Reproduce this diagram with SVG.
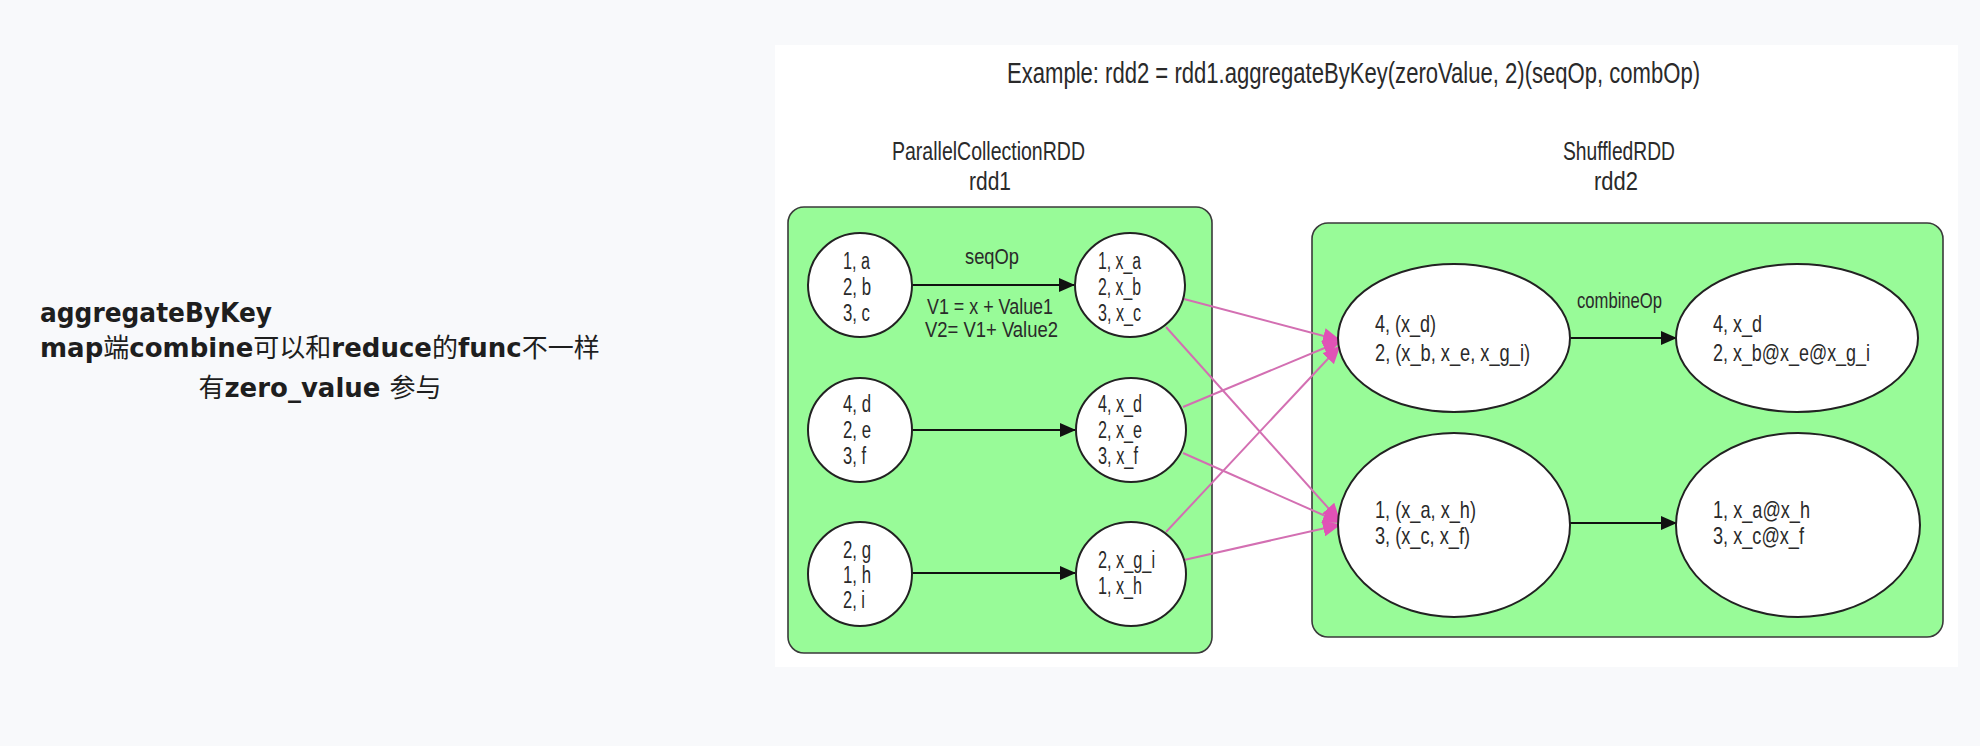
<svg xmlns="http://www.w3.org/2000/svg" width="1980" height="746" viewBox="0 0 1980 746">
<style>
.t{font-family:"Liberation Sans",Arial,sans-serif;fill:#2a2a2a}
.n{font-size:23px}
.m{font-size:24px}
.h{font-size:25px}
.lb{font-size:22px}
.cir{fill:#fff;stroke:#222;stroke-width:2}
.box{fill:#98fb98;stroke:#3a3a3a;stroke-width:1.6}
.blk{stroke:#111;stroke-width:2;fill:none;marker-end:url(#ab)}
.pk{stroke:#d36fb2;stroke-width:2;fill:none;marker-end:url(#ap)}
.note{font-family:"DejaVu Sans","Noto Sans CJK SC",sans-serif;font-size:26px;font-weight:bold;fill:#1e1e1e}
.cjk{font-family:"Noto Sans CJK SC",sans-serif;font-weight:normal}
</style>
<defs>
<marker id="ab" markerUnits="userSpaceOnUse" markerWidth="16" markerHeight="14" refX="15" refY="7" orient="auto"><path d="M0,0 L16,7 L0,14 z" fill="#111"/></marker>
<marker id="ap" markerUnits="userSpaceOnUse" markerWidth="18" markerHeight="16" refX="16" refY="8" orient="auto"><path d="M0,0 L18,8 L0,16 z" fill="#e052b6"/></marker>
</defs>
<rect x="0" y="0" width="1980" height="746" fill="#f8f9fb"/>
<g id="note">
<text class="note" x="40" y="322" textLength="232" lengthAdjust="spacingAndGlyphs">aggregateByKey</text>
<text class="note" x="40" y="357">map<tspan class="cjk">端</tspan>combine<tspan class="cjk">可以和</tspan>reduce<tspan class="cjk">的</tspan>func<tspan class="cjk">不一样</tspan></text>
<text class="note" x="320" y="397" text-anchor="middle"><tspan class="cjk">有</tspan>zero_value <tspan class="cjk">参与</tspan></text>
</g>
<rect x="775" y="45" width="1183" height="622" fill="#fff"/>
<g id="title">
<text class="t" x="1007" y="83" font-size="30" textLength="693" lengthAdjust="spacingAndGlyphs">Example: rdd2 = rdd1.aggregateByKey(zeroValue, 2)(seqOp, combOp)</text>
</g>
<g id="rdd1">
<text class="t h" x="892" y="160" textLength="193" lengthAdjust="spacingAndGlyphs">ParallelCollectionRDD</text>
<text class="t h" x="969" y="190" textLength="42" lengthAdjust="spacingAndGlyphs">rdd1</text>
<rect class="box" x="788" y="207" width="424" height="446" rx="16"/>
</g>
<g id="rdd2">
<text class="t h" x="1563" y="160" textLength="112" lengthAdjust="spacingAndGlyphs">ShuffledRDD</text>
<text class="t h" x="1594" y="190" textLength="44" lengthAdjust="spacingAndGlyphs">rdd2</text>
<rect class="box" x="1312" y="223" width="631" height="414" rx="16"/>
</g>
<g id="connectors">
<line class="blk" x1="912" y1="285" x2="1074" y2="285"/>
<line class="blk" x1="912" y1="430" x2="1075" y2="430"/>
<line class="blk" x1="912" y1="573" x2="1075" y2="573"/>
<line class="blk" x1="1570" y1="338" x2="1676" y2="338"/>
<line class="blk" x1="1570" y1="523" x2="1676" y2="523"/>
<line class="pk" x1="1184" y1="299" x2="1339" y2="340"/>
<line class="pk" x1="1166" y1="327" x2="1339" y2="520"/>
<line class="pk" x1="1183" y1="407" x2="1339" y2="342"/>
<line class="pk" x1="1183" y1="453" x2="1339" y2="522"/>
<line class="pk" x1="1166" y1="532" x2="1339" y2="347"/>
<line class="pk" x1="1184" y1="560" x2="1339" y2="525"/>
<text class="t lb" x="965" y="264" textLength="54" lengthAdjust="spacingAndGlyphs">seqOp</text>
<text class="t lb" x="927" y="314" textLength="126" lengthAdjust="spacingAndGlyphs">V1 = x + Value1</text>
<text class="t lb" x="925" y="337" textLength="133" lengthAdjust="spacingAndGlyphs">V2= V1+ Value2</text>
<text class="t lb" x="1577" y="308" textLength="85" lengthAdjust="spacingAndGlyphs">combineOp</text>
</g>
<g id="p1">
<circle class="cir" cx="860" cy="285" r="52"/>
<text class="t n" x="843" y="269" textLength="27" lengthAdjust="spacingAndGlyphs">1, a</text>
<text class="t n" x="843" y="295" textLength="28" lengthAdjust="spacingAndGlyphs">2, b</text>
<text class="t n" x="843" y="321" textLength="27" lengthAdjust="spacingAndGlyphs">3, c</text>
</g>
<g id="p2">
<circle class="cir" cx="860" cy="430" r="52"/>
<text class="t n" x="843" y="412" textLength="28" lengthAdjust="spacingAndGlyphs">4, d</text>
<text class="t n" x="843" y="438" textLength="28" lengthAdjust="spacingAndGlyphs">2, e</text>
<text class="t n" x="843" y="464" textLength="23" lengthAdjust="spacingAndGlyphs">3, f</text>
</g>
<g id="p3">
<circle class="cir" cx="860" cy="574" r="52"/>
<text class="t n" x="843" y="558" textLength="28" lengthAdjust="spacingAndGlyphs">2, g</text>
<text class="t n" x="843" y="583" textLength="28" lengthAdjust="spacingAndGlyphs">1, h</text>
<text class="t n" x="843" y="608" textLength="22" lengthAdjust="spacingAndGlyphs">2, i</text>
</g>
<g id="s1">
<ellipse class="cir" cx="1130" cy="285" rx="55" ry="52"/>
<text class="t n" x="1098" y="269" textLength="43" lengthAdjust="spacingAndGlyphs">1, x_a</text>
<text class="t n" x="1098" y="295" textLength="43" lengthAdjust="spacingAndGlyphs">2, x_b</text>
<text class="t n" x="1098" y="321" textLength="43" lengthAdjust="spacingAndGlyphs">3, x_c</text>
</g>
<g id="s2">
<ellipse class="cir" cx="1131" cy="430" rx="55" ry="52"/>
<text class="t n" x="1098" y="412" textLength="44" lengthAdjust="spacingAndGlyphs">4, x_d</text>
<text class="t n" x="1098" y="438" textLength="44" lengthAdjust="spacingAndGlyphs">2, x_e</text>
<text class="t n" x="1098" y="464" textLength="40" lengthAdjust="spacingAndGlyphs">3, x_f</text>
</g>
<g id="s3">
<ellipse class="cir" cx="1131" cy="574" rx="55" ry="52"/>
<text class="t n" x="1098" y="568" textLength="57" lengthAdjust="spacingAndGlyphs">2, x_g_i</text>
<text class="t n" x="1098" y="594" textLength="44" lengthAdjust="spacingAndGlyphs">1, x_h</text>
</g>
<g id="g1">
<ellipse class="cir" cx="1454" cy="338" rx="116" ry="74"/>
<text class="t m" x="1375" y="332" textLength="61" lengthAdjust="spacingAndGlyphs">4, (x_d)</text>
<text class="t m" x="1375" y="361" textLength="155" lengthAdjust="spacingAndGlyphs">2, (x_b, x_e, x_g_i)</text>
</g>
<g id="g2">
<ellipse class="cir" cx="1454" cy="525" rx="116" ry="92"/>
<text class="t m" x="1375" y="518" textLength="101" lengthAdjust="spacingAndGlyphs">1, (x_a, x_h)</text>
<text class="t m" x="1375" y="544" textLength="95" lengthAdjust="spacingAndGlyphs">3, (x_c, x_f)</text>
</g>
<g id="r1">
<ellipse class="cir" cx="1797" cy="338" rx="121" ry="74"/>
<text class="t m" x="1713" y="332" textLength="49" lengthAdjust="spacingAndGlyphs">4, x_d</text>
<text class="t m" x="1713" y="361" textLength="157" lengthAdjust="spacingAndGlyphs">2, x_b@x_e@x_g_i</text>
</g>
<g id="r2">
<ellipse class="cir" cx="1798" cy="525" rx="122" ry="92"/>
<text class="t m" x="1713" y="518" textLength="97" lengthAdjust="spacingAndGlyphs">1, x_a@x_h</text>
<text class="t m" x="1713" y="544" textLength="91" lengthAdjust="spacingAndGlyphs">3, x_c@x_f</text>
</g>
</svg>
